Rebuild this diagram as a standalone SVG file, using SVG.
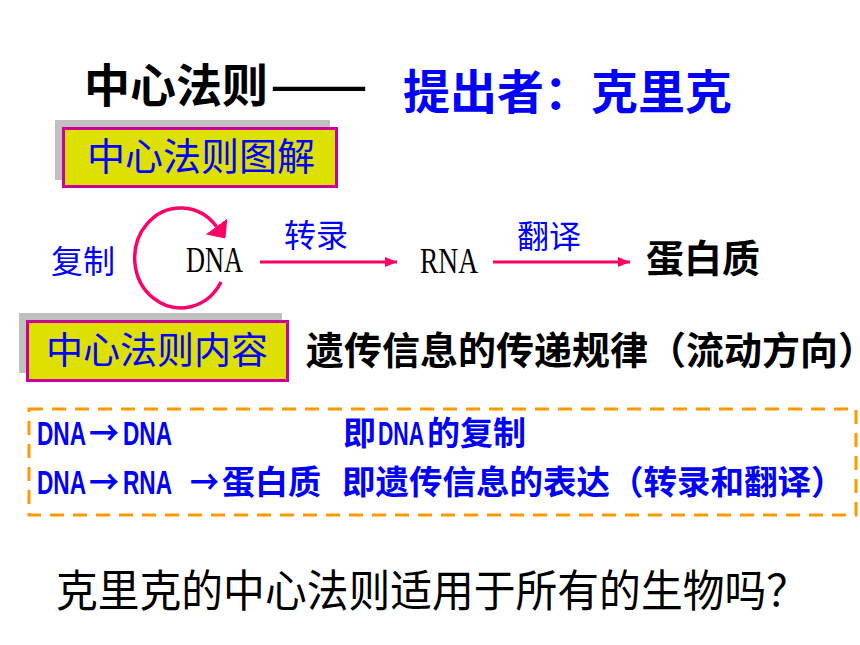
<svg xmlns="http://www.w3.org/2000/svg" width="860" height="645" viewBox="0 0 860 645">
  <style>
    .cjk { font-family: "Noto Sans CJK SC", "Liberation Sans", sans-serif; }
    .blue { fill: #0000FF; }
    .black { fill: #000000; }
    .b { font-weight: 700; }
    .serif { font-family: "Liberation Serif", serif; fill: #000; }
    .lat { font-family: "Liberation Sans", sans-serif; font-weight: 700; }
    .shadow { fill: #C0C0C0; }
    .ybox { fill: #DDE000; stroke: #CC0099; stroke-width: 3; }
    .pink { stroke: #FF0066; fill: none; }
  </style>
  <defs>
    <marker id="arr" markerUnits="userSpaceOnUse" markerWidth="12" markerHeight="10" refX="12" refY="5" orient="auto">
      <path d="M0,0 L12,5 L0,10 z" fill="#FF0066"/>
    </marker>
    <marker id="arrBig" markerUnits="userSpaceOnUse" markerWidth="15" markerHeight="27" refX="0" refY="13.5" orient="auto">
      <path d="M0,0 L15,13.5 L0,27 z" fill="#FF0066"/>
    </marker>
  </defs>
  <rect width="860" height="645" fill="#FFFFFF"/>

  <g id="title">
    <text class="cjk black b" x="84" y="102" font-size="46">中心法则<tspan x="270" textLength="98" lengthAdjust="spacingAndGlyphs">——</tspan></text>
    <text class="cjk blue b" x="403" y="109" font-size="47">提出者：克里克</text>
  </g>

  <g id="box-tujie">
    <rect class="shadow" x="55" y="120" width="275" height="60"/>
    <rect class="ybox" x="63.5" y="128.5" width="273" height="58"/>
    <text class="cjk blue" x="87" y="170" font-size="38">中心法则图解</text>
  </g>

  <g id="node-dna">
    <text class="serif" x="186" y="272" font-size="36" textLength="57" lengthAdjust="spacingAndGlyphs">DNA</text>
  </g>
  <g id="node-rna">
    <text class="serif" x="420" y="273" font-size="36" textLength="58" lengthAdjust="spacingAndGlyphs">RNA</text>
  </g>
  <g id="node-protein">
    <text class="cjk black b" x="646" y="272" font-size="38">蛋白质</text>
  </g>

  <g id="connectors">
    <path class="pink" stroke-width="3.5" d="M 221 282 A 46 50 0 1 1 216.5 226.5" marker-end="url(#arrBig)"/>
    <line class="pink" stroke-width="3" x1="260" y1="262" x2="397" y2="262" marker-end="url(#arr)"/>
    <line class="pink" stroke-width="3" x1="493" y1="262" x2="630" y2="262" marker-end="url(#arr)"/>
    <text class="cjk blue" x="51" y="273" font-size="32">复制</text>
    <text class="cjk blue" x="284" y="247" font-size="32">转录</text>
    <text class="cjk blue" x="517" y="248" font-size="32">翻译</text>
  </g>

  <g id="box-neirong">
    <rect class="shadow" x="19" y="313" width="263" height="60"/>
    <rect class="ybox" x="27.5" y="321.5" width="260" height="59"/>
    <text class="cjk blue" x="46" y="364" font-size="37">中心法则内容</text>
    <text class="cjk black b" x="306" y="364" font-size="38">遗传信息的传递规律（流动方向）</text>
  </g>

  <g id="box-dashed">
    <rect x="29" y="409" width="827" height="106" fill="none" stroke="#FF9900" stroke-width="3" stroke-dasharray="14 9"/>
    <text class="cjk blue b" y="445" font-size="33"><tspan class="lat" x="37" textLength="49" lengthAdjust="spacingAndGlyphs">DNA</tspan><tspan x="89" textLength="30" lengthAdjust="spacingAndGlyphs">→</tspan><tspan class="lat" x="123" textLength="49" lengthAdjust="spacingAndGlyphs">DNA</tspan><tspan x="343">即</tspan><tspan class="lat" x="378" textLength="46" lengthAdjust="spacingAndGlyphs">DNA</tspan><tspan x="427">的复制</tspan></text>
    <text class="cjk blue b" y="494" font-size="33"><tspan class="lat" x="37" textLength="49" lengthAdjust="spacingAndGlyphs">DNA</tspan><tspan x="89" textLength="30" lengthAdjust="spacingAndGlyphs">→</tspan><tspan class="lat" x="123" textLength="49" lengthAdjust="spacingAndGlyphs">RNA</tspan><tspan x="190" textLength="29" lengthAdjust="spacingAndGlyphs">→</tspan><tspan x="222">蛋白质</tspan><tspan x="342" font-size="33.5">即遗传信息的表达（转录和翻译）</tspan></text>
  </g>

  <g id="question">
    <text class="cjk black" x="56" y="607" font-size="44" textLength="752" lengthAdjust="spacingAndGlyphs">克里克的中心法则适用于所有的生物吗？</text>
  </g>
</svg>
